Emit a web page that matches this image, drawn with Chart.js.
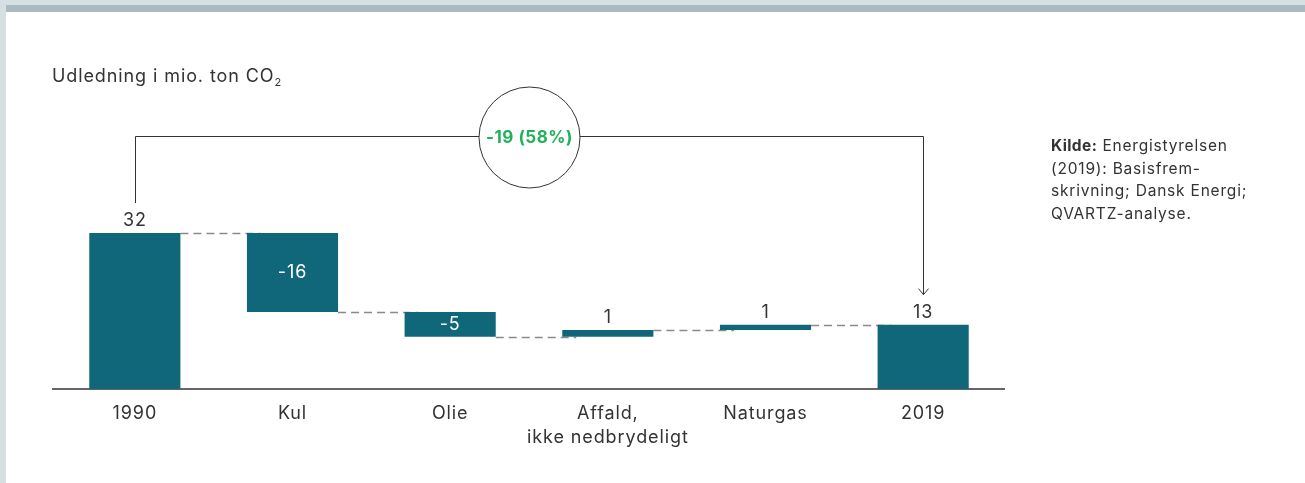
<!DOCTYPE html>
<html>
<head>
<meta charset="utf-8">
<script src="https://cdn.jsdelivr.net/npm/chart.js@4.4.1/dist/chart.umd.min.js"></script>
<style>
  html, body { margin: 0; padding: 0; background: #ffffff; }
  body { width: 1305px; height: 483px; position: relative; overflow: hidden; font-family: Inter, "Noto Sans", sans-serif; color: #333; }
  .strip-left { position: absolute; left: 0; top: 0; width: 6px; height: 483px; background: #d6dfe2; }
  .strip-top { position: absolute; left: 0; top: 0; width: 1305px; height: 5px; background: #d6dfe2; }
  .band-top { position: absolute; left: 6px; top: 5px; width: 1299px; height: 7px; background: #a9bac1; }
  #wrap { position: absolute; left: 0; top: 0; width: 1305px; height: 483px; }
  .title { position: absolute; left: 52px; top: 65px; font-size: 18px; line-height: 22px; letter-spacing: 0.9px; color: #333; }
  .title sub { font-size: 11px; vertical-align: -4px; line-height: 0; letter-spacing: 0; }
  .source { position: absolute; left: 1051px; top: 135px; font-size: 15.5px; line-height: 22.7px; letter-spacing: 0.8px; color: #333; }
  .source b { font-weight: 700; letter-spacing: 0.4px; }
</style>
</head>
<body>
<div class="strip-left"></div>
<div class="strip-top"></div>
<div class="band-top"></div>
<div id="wrap"><canvas id="chart"></canvas></div>
<div class="title">Udledning i mio. ton CO<sub>2</sub></div>
<div class="source"><b>Kilde:</b> Energistyrelsen<br>(2019): Basisfrem-<br>skrivning; Dansk Energi;<br>QVARTZ-analyse.</div>
<script>
// Waterfall data: totals at both ends, changes in between
const categories = ['1990', 'Kul', 'Olie', ['Affald,', 'ikke nedbrydeligt'], 'Naturgas', '2019'];
const values = [32, -16.2, -5.1, 1.4, 1.1, 13.2];
const kinds = ['total', 'delta', 'delta', 'delta', 'delta', 'total'];
const changeLabel = '-19 (58%)';
const bracketLevel = 52;

const barColor = '#11677a';
const textColor = '#333333';
const fontFamily = 'Inter, "Noto Sans", sans-serif';

// floating bars built from running total
let running = 0;
const ranges = values.map(function(v, i) {
    if (kinds[i] === 'total') {
        running = v;
        return [0, v];
    }
    const r = [running, running + v];
    running += v;
    return r;
});

const waterfallExtras = {
    id: 'waterfallExtras',
    beforeDraw(chart) {
        // wider letter spacing like the original typeface
        chart.ctx.letterSpacing = '0.9px';
    },
    beforeDatasetsDraw(chart) {
        const ctx = chart.ctx;
        const meta = chart.getDatasetMeta(0);
        const y = chart.scales.y;
        ctx.save();
        // axis line
        ctx.strokeStyle = '#333';
        ctx.lineWidth = 1.5;
        ctx.beginPath();
        ctx.moveTo(chart.chartArea.left - 4, y.getPixelForValue(0));
        ctx.lineTo(chart.chartArea.right + 3, y.getPixelForValue(0));
        ctx.stroke();
        // dashed connectors
        ctx.strokeStyle = '#8a8a8a';
        ctx.lineWidth = 1.3;
        ctx.setLineDash([8, 5]);
        for (let i = 0; i < ranges.length - 1; i++) {
            const py = Math.round(y.getPixelForValue(ranges[i][1])) + 0.5;
            const a = meta.data[i], b = meta.data[i + 1];
            ctx.beginPath();
            ctx.moveTo(a.x + a.width / 2, py);
            ctx.lineTo(b.x - b.width / 2 + 14, py);
            ctx.stroke();
        }
        ctx.restore();
    },
    afterDatasetsDraw(chart) {
        const ctx = chart.ctx;
        const meta = chart.getDatasetMeta(0);
        const y = chart.scales.y;
        ctx.save();
        ctx.font = '18px ' + fontFamily;
        ctx.textAlign = 'center';
        ctx.textBaseline = 'middle';
        values.forEach(function(v, i) {
            const bar = meta.data[i];
            const top = Math.min(bar.y, bar.base);
            const label = String(Math.round(v));
            if (kinds[i] === 'delta' && v < 0) {
                ctx.fillStyle = '#ffffff';
                ctx.fillText(label, bar.x, (bar.y + bar.base) / 2);
            } else {
                ctx.fillStyle = textColor;
                ctx.fillText(label, bar.x, top - 12);
            }
        });

        // bracket from first total to last total
        const first = meta.data[0], last = meta.data[meta.data.length - 1];
        const by = Math.round(y.getPixelForValue(bracketLevel)) + 0.5;
        const lx = Math.round(first.x) + 0.5, rx = Math.round(last.x) + 0.5;
        const leftEnd = first.y - 30, rightEnd = last.y - 30;
        ctx.strokeStyle = '#333';
        ctx.lineWidth = 1;
        ctx.beginPath();
        ctx.moveTo(lx, leftEnd);
        ctx.lineTo(lx, by);
        ctx.lineTo(rx, by);
        ctx.lineTo(rx, rightEnd);
        ctx.stroke();
        // arrow head
        ctx.beginPath();
        ctx.moveTo(rx - 5, rightEnd - 6);
        ctx.lineTo(rx, rightEnd);
        ctx.lineTo(rx + 5, rightEnd - 6);
        ctx.stroke();
        // circle with total change
        const cx = (lx + rx) / 2;
        ctx.beginPath();
        ctx.arc(cx, by + 1, 50.5, 0, Math.PI * 2);
        ctx.fillStyle = '#ffffff';
        ctx.fill();
        ctx.stroke();
        ctx.fillStyle = '#1fb25a';
        ctx.letterSpacing = '0.5px';
        ctx.font = 'bold 17px ' + fontFamily;
        ctx.fillText(changeLabel, cx, by + 1);
        ctx.restore();
    }
};

const ctx = document.getElementById('chart').getContext('2d');
const chart = new Chart(ctx, {
    type: 'bar',
    data: {
        labels: categories,
        datasets: [{
            data: ranges,
            backgroundColor: barColor,
            borderWidth: 0,
            barPercentage: 0.578,
            categoryPercentage: 1
        }]
    },
    options: {
        responsive: true,
        maintainAspectRatio: false,
        animation: false,
        layout: {
            padding: { left: 56, right: 303, top: 194, bottom: 0 }
        },
        plugins: {
            legend: { display: false },
            tooltip: { enabled: false }
        },
        scales: {
            x: {
                grid: { display: false, drawTicks: false },
                border: { display: false },
                ticks: {
                    color: textColor,
                    padding: 13,
                    maxRotation: 0,
                    autoSkip: false,
                    font: { family: fontFamily, size: 18, lineHeight: 1.33 }
                },
                afterFit: function(scale) {
                    scale.height = 94;
                }
            },
            y: {
                display: false,
                min: 0,
                max: 40
            }
        }
    },
    plugins: [waterfallExtras]
});
</script>
</body>
</html>
